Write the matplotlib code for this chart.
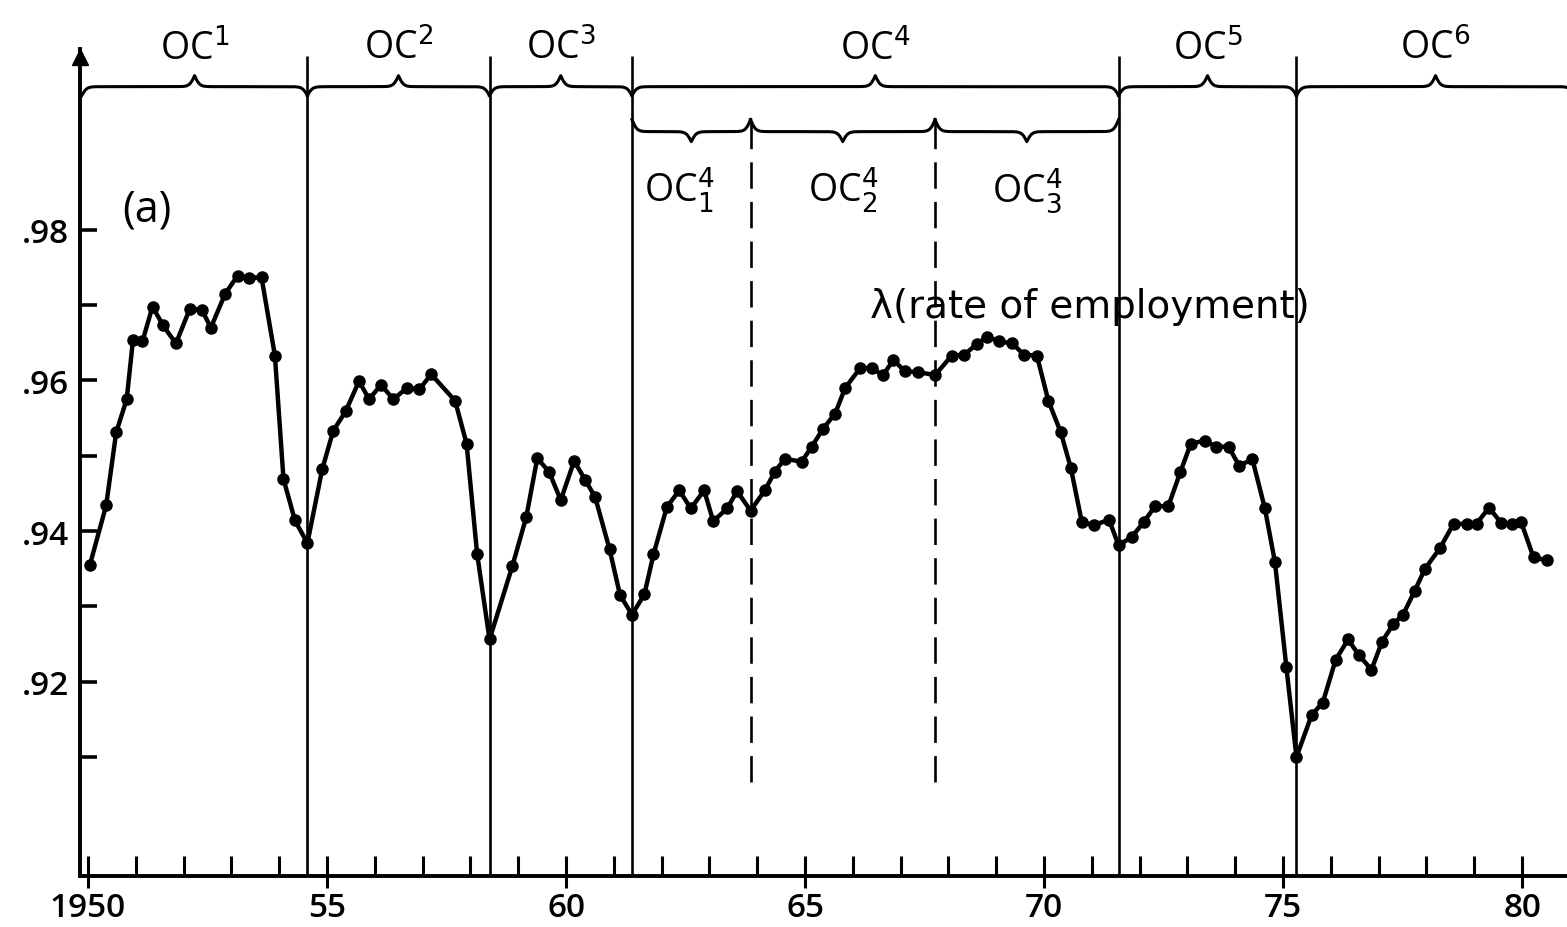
import numpy as np
import matplotlib
matplotlib.use('Agg')
import matplotlib.pyplot as plt
from matplotlib.ticker import FixedLocator

plt.rcParams['font.family'] = ['Open Sans', 'DejaVu Sans']
plt.rcParams['mathtext.fontset'] = 'dejavusans'

## quarterly rate of employment (time in years)
years = [
    1950.04, 1950.38, 1950.59, 1950.81, 1950.94, 1951.14, 1951.35, 1951.57, 1951.84, 1952.13,
    1952.38, 1952.57, 1952.87, 1953.13, 1953.37, 1953.63, 1953.91, 1954.09, 1954.33, 1954.59,
    1954.90, 1955.13, 1955.39, 1955.67, 1955.88, 1956.13, 1956.39, 1956.67, 1956.93, 1957.18,
    1957.68, 1957.92, 1958.14, 1958.40, 1958.88, 1959.17, 1959.40, 1959.65, 1959.89, 1960.17,
    1960.40, 1960.61, 1960.91, 1961.13, 1961.38, 1961.64, 1961.83, 1962.11, 1962.37, 1962.61,
    1962.89, 1963.08, 1963.37, 1963.58, 1963.86, 1964.16, 1964.37, 1964.58, 1964.93, 1965.14,
    1965.38, 1965.63, 1965.84, 1966.15, 1966.40, 1966.63, 1966.85, 1967.09, 1967.37, 1967.72,
    1968.07, 1968.33, 1968.59, 1968.81, 1969.06, 1969.34, 1969.58, 1969.85, 1970.09, 1970.35,
    1970.56, 1970.79, 1971.05, 1971.36, 1971.56, 1971.83, 1972.09, 1972.32, 1972.60, 1972.85,
    1973.07, 1973.36, 1973.60, 1973.86, 1974.08, 1974.36, 1974.62, 1974.83, 1975.07, 1975.28,
    1975.60, 1975.83, 1976.10, 1976.36, 1976.59, 1976.85, 1977.07, 1977.30, 1977.51, 1977.75,
    1977.97, 1978.28, 1978.57, 1978.85, 1979.05, 1979.31, 1979.56, 1979.79, 1979.98, 1980.24,
    1980.53]

lam = [
    0.9355, 0.9434, 0.9531, 0.9575, 0.9653, 0.9652, 0.9698, 0.9673, 0.9649, 0.9695,
    0.9694, 0.9670, 0.9715, 0.9739, 0.9736, 0.9737, 0.9633, 0.9469, 0.9414, 0.9384,
    0.9482, 0.9533, 0.9559, 0.9599, 0.9575, 0.9594, 0.9575, 0.9590, 0.9588, 0.9608,
    0.9573, 0.9516, 0.9370, 0.9256, 0.9354, 0.9419, 0.9497, 0.9478, 0.9441, 0.9493,
    0.9468, 0.9445, 0.9376, 0.9315, 0.9289, 0.9316, 0.9369, 0.9432, 0.9454, 0.9430,
    0.9454, 0.9413, 0.9430, 0.9453, 0.9427, 0.9454, 0.9479, 0.9496, 0.9492, 0.9512,
    0.9536, 0.9556, 0.9590, 0.9616, 0.9616, 0.9607, 0.9627, 0.9612, 0.9611, 0.9607,
    0.9633, 0.9634, 0.9648, 0.9658, 0.9652, 0.9649, 0.9634, 0.9633, 0.9573, 0.9531,
    0.9484, 0.9412, 0.9408, 0.9415, 0.9381, 0.9392, 0.9412, 0.9433, 0.9433, 0.9478,
    0.9516, 0.9520, 0.9512, 0.9512, 0.9487, 0.9495, 0.9430, 0.9359, 0.9219, 0.9100,
    0.9156, 0.9172, 0.9229, 0.9256, 0.9235, 0.9216, 0.9253, 0.9276, 0.9289, 0.9320,
    0.9350, 0.9377, 0.9410, 0.9409, 0.9410, 0.9431, 0.9411, 0.9410, 0.9412, 0.9365,
    0.9361]

## cycle boundaries (troughs) and sub-phases of OC4
cycle_bounds = [1954.59, 1958.40, 1961.38, 1971.56, 1975.28]
cycle_labels = ['OC$^1$', 'OC$^2$', 'OC$^3$', 'OC$^4$', 'OC$^5$', 'OC$^6$']
sub_bounds = [1963.86, 1967.72]
sub_labels = ['OC$_1^4$', 'OC$_2^4$', 'OC$_3^4$']

xtick_vals = [1950, 1955, 1960, 1965, 1970, 1975, 1980]
xtick_labels = ['1950', '55', '60', '65', '70', '75', '80']
ytick_vals = [0.92, 0.94, 0.96, 0.98]
ytick_labels = ['.92', '.94', '.96', '.98']
ytick_minor = [0.91, 0.93, 0.95, 0.97]

X0, X1 = 1949.833, 1980.94
Y0, Y1 = 0.8942, 1.0040
PX_YR = 47.8   # pixels per year


def brace(ax, x0, x1, yb, d_end, d_tip, sign):
    # curly brace between x0 and x1, tip away from the plot when sign=+1
    half_px = (x1 - x0) / 2 * PX_YR
    u = np.linspace(0, half_px, 300)
    beta = 0.4
    s = 1 / (1 + np.exp(-beta * u)) + 1 / (1 + np.exp(-beta * (u - half_px)))
    off = np.where(s < 1, (s - 1) * 2 * d_end, (s - 1) * 2 * d_tip)
    xh = x0 + u / PX_YR
    xs = np.concatenate([xh, (x1 - (xh - x0))[::-1]])
    ys = yb + sign * np.concatenate([off, off[::-1]])
    ax.plot(xs, ys, color='black', lw=2.2, clip_on=False)


def main():
    fig, ax = plt.subplots(figsize=(15.67, 9.28), dpi=100)
    ax.set_position([80 / 1567, 51 / 928, 1487 / 1567, 827 / 928])
    ax.set_xlim(X0, X1)
    ax.set_ylim(Y0, Y1)

    # cycle separators
    ax.vlines(cycle_bounds, Y0, 1.0031, color='black', lw=1.9)
    ax.vlines(sub_bounds, 0.90667, 0.99449, color='black', lw=1.9,
              linestyles=(0, (10, 5)))

    # the series
    ax.plot(years, lam, '-o', color='black', lw=3.2, ms=8, zorder=5)

    # braces, top row
    edges = [1949.87] + cycle_bounds + [1981.1]
    for i in range(len(edges) - 1):
        a, b = edges[i], edges[i + 1]
        brace(ax, a, b, 0.99900, 0.00119, 0.00146, 1)
        ax.text((a + b) / 2, 1.0027, cycle_labels[i], ha='center', va='baseline',
                fontsize=27, clip_on=False)

    # braces, OC4 sub-phases
    sub_edges = [cycle_bounds[2]] + sub_bounds + [cycle_bounds[3]]
    label_shift = [-0.25, 0.0, 0.0]
    for i in range(len(sub_edges) - 1):
        a, b = sub_edges[i], sub_edges[i + 1]
        brace(ax, a, b, 0.99303, 0.0016, 0.00133, -1)
        ax.text((a + b) / 2 + label_shift[i], 0.98373, sub_labels[i],
                ha='center', va='baseline', fontsize=27)

    ax.text(1950.71, 0.9812, '(a)', ha='left', va='baseline', fontsize=31)
    ax.text(1966.36, 0.96846, 'λ(rate of employment)', ha='left', va='baseline',
            fontsize=28, family='DejaVu Sans')

    # axes
    for side in ['top', 'right']:
        ax.spines[side].set_visible(False)
    for side in ['left', 'bottom']:
        ax.spines[side].set_linewidth(2.8)
    ax.plot(X0, 1.0030, marker='^', ms=11, color='black', clip_on=False)

    ax.set_xticks(xtick_vals)
    ax.set_xticklabels(xtick_labels, fontweight='semibold')
    ax.xaxis.set_minor_locator(FixedLocator(list(range(1950, 1981))))
    ax.xaxis.remove_overlapping_locs = False
    ax.tick_params(axis='x', which='major', direction='out', length=8.6, width=2.2,
                   pad=2, labelsize=24)
    ax.tick_params(axis='x', which='minor', direction='in', length=14.4, width=2.2)

    ax.set_yticks(ytick_vals)
    ax.set_yticklabels(ytick_labels, fontweight='semibold')
    ax.yaxis.set_minor_locator(FixedLocator(ytick_minor))
    ax.tick_params(axis='y', which='both', direction='in', length=12, width=2.6,
                   pad=8, labelsize=24)

    fig.savefig('out.png', dpi=100)
    return 0


if __name__ == '__main__':
    import sys
    sys.exit(main())
